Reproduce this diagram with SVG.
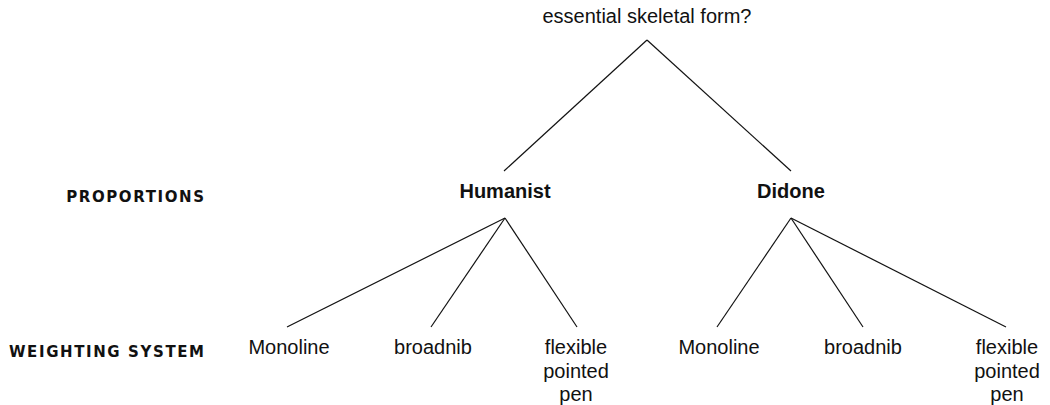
<svg xmlns="http://www.w3.org/2000/svg" width="1050" height="405" viewBox="0 0 1050 405">
<style>
.t{font-family:"Liberation Sans",Arial,sans-serif;font-size:20px;fill:#111;text-anchor:middle}
.b{font-weight:bold}
.lab{font-family:"DejaVu Sans","Liberation Sans",sans-serif;font-size:15px;font-weight:bold;letter-spacing:1.6px;fill:#111;text-anchor:end}
.c line{stroke:#111;stroke-width:1.2;fill:none}
</style>
<rect width="1050" height="405" fill="#fff"/>
<g class="c" id="connectors">
<line x1="647" y1="40" x2="504" y2="171"/>
<line x1="647" y1="40" x2="791" y2="171"/>
<line x1="505" y1="218" x2="287" y2="327"/>
<line x1="505" y1="218" x2="431" y2="327"/>
<line x1="505" y1="218" x2="577" y2="327"/>
<line x1="791" y1="218" x2="717" y2="327"/>
<line x1="791" y1="218" x2="863" y2="327"/>
<line x1="791" y1="218" x2="1006" y2="327"/>
</g>
<g id="label-proportions"><text class="lab" x="205.6" y="201.5">PROPORTIONS</text></g>
<g id="label-weighting"><text class="lab" x="205.6" y="356.5">WEIGHTING SYSTEM</text></g>
<g id="root"><text class="t" x="647" y="23">essential skeletal form?</text></g>
<g id="humanist"><text class="t b" x="505" y="198">Humanist</text></g>
<g id="didone"><text class="t b" x="791" y="198">Didone</text></g>
<g id="h-monoline"><text class="t" x="289" y="354">Monoline</text></g>
<g id="h-broadnib"><text class="t" x="433" y="354">broadnib</text></g>
<g id="h-flexible"><text class="t" x="576" y="354">flexible<tspan x="576" dy="23.5">pointed</tspan><tspan x="576" dy="23.5">pen</tspan></text></g>
<g id="d-monoline"><text class="t" x="719" y="354">Monoline</text></g>
<g id="d-broadnib"><text class="t" x="863" y="354">broadnib</text></g>
<g id="d-flexible"><text class="t" x="1007" y="354">flexible<tspan x="1007" dy="23.5">pointed</tspan><tspan x="1007" dy="23.5">pen</tspan></text></g>
</svg>
